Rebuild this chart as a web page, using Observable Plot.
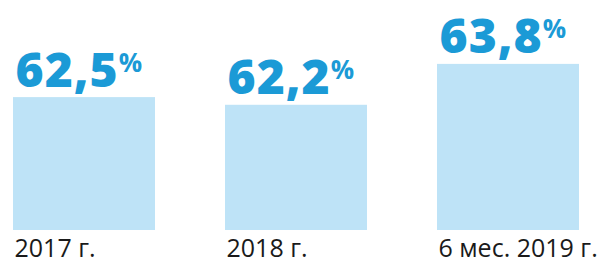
<!DOCTYPE html>
<html>
<head>
<meta charset="utf-8">
<script src="https://cdn.jsdelivr.net/npm/d3@7"></script>
<script src="https://cdn.jsdelivr.net/npm/@observablehq/plot@0.6"></script>
<style>
  html, body { margin: 0; padding: 0; background: #fff; }
  #chart svg { display: block; }
</style>
</head>
<body>
<div id="chart"></div>
<script>
const categories = ["2017 г.", "2018 г.", "6 мес. 2019 г."];
const values = [62.5, 62.2, 63.8];
const valueLabels = ["62,5", "62,2", "63,8"];
const unit = "%";

const data = categories.map((c, i) => ({ cat: c, value: values[i], label: valueLabels[i] }));

const barColor = "#bee3f7";
const valueColor = "#1b9ad6";

const chart = Plot.plot({
  width: 606,
  height: 264,
  marginLeft: 12,
  marginRight: 27,
  marginTop: 0,
  marginBottom: 34,
  x: { domain: categories, paddingInner: 0.332, paddingOuter: 0, axis: null },
  y: { domain: [57.3, 66.3], axis: null },
  marks: [
    Plot.barY(data, { x: "cat", y1: 57.3, y2: "value", fill: barColor }),
    Plot.text(data, {
      x: "cat", y: "value", text: "label",
      textAnchor: "start", lineAnchor: "bottom",
      dx: -69, dy: -11,
      fill: valueColor, fontSize: 48, fontWeight: 800,
      fontFamily: "'Open Sans', sans-serif",
      className: "vals"
    }),
    Plot.text(data, {
      x: "cat", frameAnchor: "bottom", text: "cat",
      textAnchor: "start", lineAnchor: "bottom",
      dx: -70, dy: 26,
      fill: "#1a1a1a", fontSize: 25,
      fontFamily: "'Open Sans', sans-serif"
    })
  ]
});

document.getElementById("chart").append(chart);

d3.select(chart).selectAll(".vals text")
  .attr("letter-spacing", 1)
  .each(function () {
    d3.select(this).append("tspan")
      .attr("font-size", 26)
      .attr("font-weight", 700)
      .attr("dx", 0)
      .attr("dy", -15)
      .text(unit);
  });
</script>
</body>
</html>
